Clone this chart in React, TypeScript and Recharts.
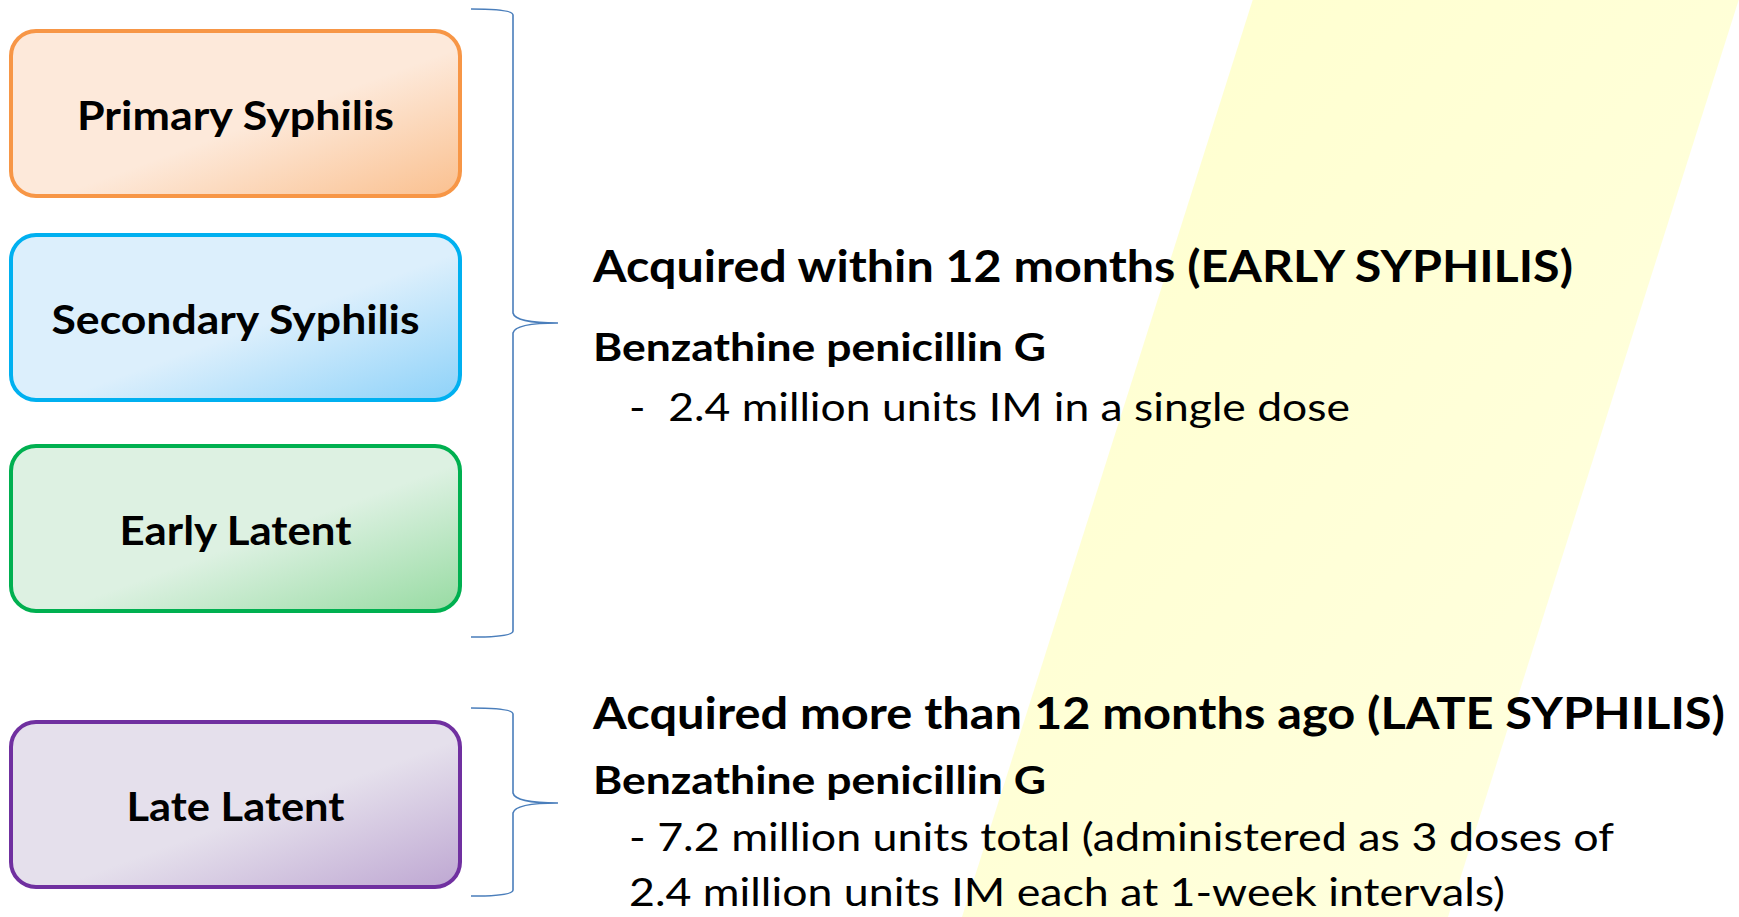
import { ComposedChart, XAxis, YAxis, ReferenceArea, ReferenceDot } from 'recharts';

const W = 1739;
const H = 917;

// stages (left boxes)
const stages = ['Primary Syphilis', 'Secondary Syphilis', 'Early Latent', 'Late Latent'];
const stageBorder = ['#F79646', '#00B0F0', '#00B050', '#7030A0'];
const stageFillFrom = ['#FDE9DA', '#DCEFFC', '#DDF1E2', '#E5E0EC'];
const stageFillTo = ['#FAC08F', '#8ED2F9', '#97DBA2', '#BEA7D2'];

// treatment groups (right side)
const groupTitles = [
  'Acquired within 12 months (EARLY SYPHILIS)',
  'Acquired more than 12 months ago (LATE SYPHILIS)',
];
const drugName = 'Benzathine penicillin G';
const groupDoses = [
  ['-  2.4 million units IM in a single dose'],
  ['- 7.2 million units total (administered as 3 doses of', '2.4 million units IM each at 1-week intervals)'],
];

// layout (diagram units == pixels)
const box = { x1: 11, x2: 460, r: 25, top: [31, 235, 446, 722], bottom: [196, 400, 611, 887] };
const labelWidth = [317, 368, 232, 218];
const brace = { x1: 471, xm: 513, x2: 558, top: [9, 708], bottom: [637, 896], tip: [323, 803] };
// band measured along the bottom edge of the picture
const band = { x1: 962, x2: 1448, slope: 0.317, ext: 40 };
const textX = 593;
const doseX = 629;
const titleY = [282, 729];
const drugY = [361, 794];
const doseY = [[421], [851, 906]];
const titleWidth = [980, 1132];
const drugWidth = 453;
const doseWidth = [[721], [985, 876]];

const FONT = 'Lato, "Open Sans", sans-serif';

const BraceShape = (props: any) => {
  const { x, y, width, height, tipY } = props;
  const xm = brace.xm;
  const x0 = x;
  const xr = x + width;
  const yb = y + height;
  const d = [
    `M${x0},${y} Q${xm},${y} ${xm},${y + 6}`,
    `L${xm},${tipY - 10} Q${xm + 2},${tipY} ${xr},${tipY}`,
    `M${xr},${tipY} Q${xm + 2},${tipY} ${xm},${tipY + 10}`,
    `L${xm},${yb - 6} Q${xm},${yb} ${x0},${yb}`,
  ].join(' ');
  return <path d={d} fill="none" stroke="#4A7EBB" strokeWidth={1.6} />;
};

const BoxShape = (props: any) => {
  const { x, y, width, height, idx } = props;
  return (
    <g>
      <rect
        x={x}
        y={y}
        width={width}
        height={height}
        rx={box.r}
        ry={box.r}
        fill={`url(#stageGrad${idx})`}
        stroke={stageBorder[idx]}
        strokeWidth={4}
      />
      <text
        x={x + width / 2}
        y={y + height / 2 + 16.5}
        textAnchor="middle"
        fontFamily={FONT}
        fontWeight={700}
        fontSize={41}
        fill="#000"
        textLength={labelWidth[idx]}
        lengthAdjust="spacingAndGlyphs"
      >
        {stages[idx]}
      </text>
    </g>
  );
};

// slanted band: x/width given at the bottom edge, leaning right going up
const BandShape = (props: any) => {
  const { x, y, width, height } = props;
  const top = y - band.ext;
  const bot = y + height + band.ext;
  const xAt = (yy: number) => x + (y + height - yy) * band.slope;
  const pts = [
    [xAt(top), top],
    [xAt(top) + width, top],
    [xAt(bot) + width, bot],
    [xAt(bot), bot],
  ]
    .map((p) => p.join(','))
    .join(' ');
  return <polygon points={pts} fill="url(#bandGrad)" stroke="none" />;
};

const textShape = (text: string, size: number, weight: number, len: number) => (props: any) => (
  <text
    x={props.cx}
    y={props.cy}
    fontFamily={FONT}
    fontWeight={weight}
    fontSize={size}
    fill="#000"
    textLength={len}
    lengthAdjust="spacingAndGlyphs"
    style={{ whiteSpace: 'pre' }}
  >
    {text}
  </text>
);

export default function App() {
  return (
    <div style={{ position: 'absolute', left: 0, top: 0, width: W, height: H, background: '#fff', overflow: 'hidden' }}>
      <ComposedChart width={W} height={H} margin={{ top: 0, right: 0, bottom: 0, left: 0 }} data={[]}>
        <defs>
          {stages.map((s, i) => (
            <linearGradient key={s} id={`stageGrad${i}`} x1="0" y1="0" x2="1" y2="1">
              <stop offset="0%" stopColor={stageFillFrom[i]} />
              <stop offset="55%" stopColor={stageFillFrom[i]} stopOpacity={1} />
              <stop offset="100%" stopColor={stageFillTo[i]} />
            </linearGradient>
          ))}
          <linearGradient id="bandGrad" x1="0" y1="0" x2="1" y2="1">
            <stop offset="0%" stopColor="#FFFFCC" />
            <stop offset="100%" stopColor="#FFFFE2" />
          </linearGradient>
        </defs>
        <XAxis type="number" dataKey="x" domain={[0, W]} hide allowDataOverflow />
        <YAxis type="number" dataKey="y" domain={[0, H]} reversed hide allowDataOverflow />

        <ReferenceArea x1={band.x1} x2={band.x2} y1={0} y2={H} ifOverflow="visible" shape={BandShape} />

        {stages.map((s, i) => (
          <ReferenceArea
            key={s}
            x1={box.x1}
            x2={box.x2}
            y1={box.top[i]}
            y2={box.bottom[i]}
            ifOverflow="visible"
            shape={(p: any) => <BoxShape {...p} idx={i} />}
          />
        ))}

        {groupTitles.map((t, g) => (
          <ReferenceArea
            key={`brace${g}`}
            x1={brace.x1}
            x2={brace.x2}
            y1={brace.top[g]}
            y2={brace.bottom[g]}
            ifOverflow="visible"
            shape={(p: any) => <BraceShape {...p} tipY={brace.tip[g]} />}
          />
        ))}

        {groupTitles.map((t, g) => (
          <ReferenceDot
            key={`title${g}`}
            x={textX}
            y={titleY[g]}
            r={0}
            ifOverflow="visible"
            shape={textShape(t, 43, 700, titleWidth[g])}
          />
        ))}
        {groupTitles.map((t, g) => (
          <ReferenceDot
            key={`drug${g}`}
            x={textX}
            y={drugY[g]}
            r={0}
            ifOverflow="visible"
            shape={textShape(drugName, 39, 700, drugWidth)}
          />
        ))}
        {groupDoses.map((lines, g) =>
          lines.map((line, j) => (
            <ReferenceDot
              key={`dose${g}-${j}`}
              x={doseX}
              y={doseY[g][j]}
              r={0}
              ifOverflow="visible"
              shape={textShape(line, 39, 400, doseWidth[g][j])}
            />
          ))
        )}
      </ComposedChart>
    </div>
  );
}
